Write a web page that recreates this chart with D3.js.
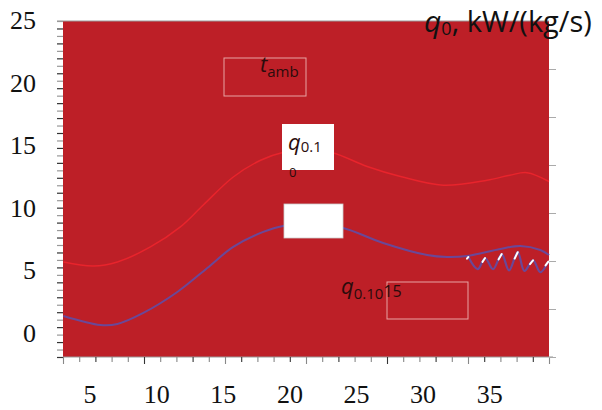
<!DOCTYPE html>
<html>
<head>
<meta charset="utf-8">
<script src="https://cdn.jsdelivr.net/npm/d3@7"></script>
<style>
  body { margin: 0; background: #fff; }
  .tick-label { font-family: "Liberation Serif", "Times New Roman", serif; font-size: 26px; fill: #111; }
  .note { font-family: "Open Sans", "Noto Sans", sans-serif; fill: #2a0c0c; }
</style>
</head>
<body>
<div id="chart"></div>
<script>
// ---- data ----
const xTicks = [5, 10, 15, 20, 25, 30, 35];
const yTicks = [0, 5, 10, 15, 20, 25];

// upper (red) curve
const redX = [3.0, 5.25, 7.05, 9.53, 11.78, 13.5, 15.75, 17.8, 19.4, 21.5, 23.2, 25.8, 28.3, 31.5, 34.8, 36.5, 37.8, 39.45];
const redY = [5.67, 5.35, 5.67, 6.87, 8.47, 10.22, 12.46, 13.8, 14.4, 14.6, 14.4, 13.3, 12.5, 11.8, 12.2, 12.6, 12.8, 12.1];

// lower (purple) curve
const blueX = [3.0, 5.78, 7.05, 9.0, 11.55, 13.8, 15.75, 18.0, 19.5, 21.75, 24.0, 27.0, 30.3, 31.8, 33.3, 35.8, 37.3, 38.8, 39.45];
const blueY = [1.36, 0.64, 0.72, 1.6, 3.27, 5.19, 6.87, 8.07, 8.55, 8.7, 8.39, 7.19, 6.23, 6.07, 6.15, 6.71, 6.95, 6.63, 6.23];

// oscillating tail of the purple curve
const wigX = [33.4, 34.1, 34.65, 35.25, 35.9, 36.45, 37.1, 37.6, 38.25, 38.8, 39.4];
const wigY = [6.07, 5.1, 5.99, 5.1, 6.3, 5.0, 6.45, 4.95, 5.8, 4.85, 5.7];

// ---- layout ----
const width = 602, height = 410;
const plot = { left: 63, right: 549, top: 21, bottom: 357 };
const bgColor = "#bd1f27";
const redColor = "#e8242c";
const blueColor = "#6a4898";

const svg = d3.select("#chart").append("svg")
    .attr("width", width)
    .attr("height", height);

const xScale = d3.scaleLinear().domain([2.97, 39.45]).range([plot.left, plot.right]);
const yScale = d3.scaleLinear().domain([-1.92, 24.92]).range([plot.bottom, plot.top]);

// scales used only for the tick marks (they do not line up with the labels)
const leftTickScale = d3.scaleLinear().domain([0, 45]).range([plot.bottom, plot.top]);
const bottomTickScale = d3.scaleLinear().domain([0, 30]).range([plot.left, plot.right]);
const rightTickScale = d3.scaleLinear().domain([0, 7]).range([plot.bottom, plot.top]);

// background panel
svg.append("rect")
    .attr("x", plot.left).attr("y", plot.top)
    .attr("width", plot.right - plot.left).attr("height", plot.bottom - plot.top)
    .attr("fill", bgColor);

// top border line
svg.append("line")
    .attr("x1", plot.left - 6).attr("x2", plot.right)
    .attr("y1", plot.top).attr("y2", plot.top)
    .attr("stroke", "#9a9a9a").attr("stroke-width", 1);

/*****************/
/* tick marks    */
/*****************/
const leftAxis = d3.axisLeft(leftTickScale).tickValues(d3.range(0, 46)).tickSize(6).tickFormat("");
const gLeft = svg.append("g").attr("transform", `translate(${plot.left},0)`).call(leftAxis);
gLeft.select(".domain").remove();
gLeft.selectAll(".tick line")
    .attr("stroke", (d) => d % 2 === 0 ? "#333" : "#999")
    .attr("stroke-width", 1.2);

const bottomAxis = d3.axisBottom(bottomTickScale).tickValues(d3.range(0, 31)).tickSize(6).tickFormat("");
const gBottom = svg.append("g").attr("transform", `translate(0,${plot.bottom})`).call(bottomAxis);
gBottom.select(".domain").attr("stroke", "#999").attr("d", `M${plot.left},0H${plot.right + 4}`);
gBottom.selectAll(".tick line")
    .attr("stroke", (d) => d % 3 === 2 ? "#333" : "#888")
    .attr("y2", (d) => d % 5 === 0 ? 7 : 5)
    .attr("stroke-width", 1.1);

const rightAxis = d3.axisRight(rightTickScale).tickValues(d3.range(0, 7)).tickSize(7).tickFormat("");
const gRight = svg.append("g").attr("transform", `translate(${plot.right},0)`).call(rightAxis);
gRight.select(".domain").remove();
gRight.selectAll(".tick line").attr("stroke", "#aaa").attr("stroke-width", 1);

/*****************/
/* tick labels   */
/*****************/
svg.append("g").selectAll("text")
    .data(yTicks)
    .join("text")
    .attr("class", "tick-label")
    .attr("x", 36)
    .attr("y", (d) => yScale(d))
    .attr("dy", "0.35em")
    .attr("text-anchor", "end")
    .text((d) => d);

svg.append("g").selectAll("text")
    .data(xTicks)
    .join("text")
    .attr("class", "tick-label")
    .attr("x", (d) => xScale(d))
    .attr("y", 403)
    .attr("text-anchor", "middle")
    .text((d) => d);

/*****************/
/* curves        */
/*****************/
const line = d3.line()
    .x((d) => xScale(d[0]))
    .y((d) => yScale(d[1]))
    .curve(d3.curveCatmullRom.alpha(0.5));

svg.append("path")
    .datum(d3.zip(redX, redY))
    .attr("d", line)
    .attr("fill", "none")
    .attr("stroke", redColor)
    .attr("stroke-width", 1.5);

svg.append("path")
    .datum(d3.zip(blueX, blueY))
    .attr("d", line)
    .attr("fill", "none")
    .attr("stroke", blueColor)
    .attr("stroke-width", 2);

const wig = d3.zip(wigX, wigY);
svg.append("path")
    .datum(wig)
    .attr("d", line)
    .attr("fill", "none")
    .attr("stroke", blueColor)
    .attr("stroke-width", 2.2);

// little white highlights on the peaks of the wiggle
const peaks = wig.filter((d, i) => i === 0 || (i > 0 && d[1] > wig[i - 1][1]));
svg.append("g").selectAll("line")
    .data(peaks.map((d) => {
        const j = wig.indexOf(d);
        const prev = j > 0 ? wig[j - 1] : [d[0] - 0.3, d[1] - 0.4];
        return [prev, d];
    }))
    .join("line")
    .attr("x1", (d) => xScale(d[1][0] - (d[1][0] - d[0][0]) * 0.35))
    .attr("y1", (d) => yScale(d[1][1] - (d[1][1] - d[0][1]) * 0.35))
    .attr("x2", (d) => xScale(d[1][0]))
    .attr("y2", (d) => yScale(d[1][1]))
    .attr("stroke", "#fff")
    .attr("stroke-width", 2)
    .attr("stroke-linecap", "round");

/*****************/
/* annotations   */
/*****************/
// t_amb outlined box
svg.append("rect")
    .attr("x", 224).attr("y", 58).attr("width", 82).attr("height", 38)
    .attr("fill", "none").attr("stroke", "#e8a4a4").attr("stroke-width", 1);
const tAmb = svg.append("text").attr("class", "note").attr("x", 260).attr("y", 72);
tAmb.append("tspan").attr("font-style", "italic").attr("font-size", 22).text("t");
tAmb.append("tspan").attr("font-size", 15).attr("dy", 5).text("amb");

// white box with q0.1
svg.append("rect")
    .attr("x", 282).attr("y", 124).attr("width", 52).attr("height", 46)
    .attr("fill", "#fff");
const q01 = svg.append("text").attr("class", "note").attr("x", 288).attr("y", 150);
q01.append("tspan").attr("font-style", "italic").attr("font-size", 22).text("q");
q01.append("tspan").attr("font-size", 15).attr("dy", 2).text("0.1");
svg.append("text").attr("class", "note")
    .attr("x", 289).attr("y", 177).attr("font-size", 13).text("0");

// empty white box
svg.append("rect")
    .attr("x", 284).attr("y", 204).attr("width", 59).attr("height", 34)
    .attr("fill", "#fff").attr("stroke", "#ccc").attr("stroke-width", 0.8);

// outlined box with q0.10 15
svg.append("rect")
    .attr("x", 387).attr("y", 282).attr("width", 81).attr("height", 37)
    .attr("fill", "none").attr("stroke", "#e8a4a4").attr("stroke-width", 1);
const q015 = svg.append("text").attr("class", "note").attr("x", 341).attr("y", 294);
q015.append("tspan").attr("font-style", "italic").attr("font-size", 22).text("q");
q015.append("tspan").attr("font-size", 15).attr("dy", 5).text("0.10");
q015.append("tspan").attr("font-size", 16).attr("dy", -2).text("15");

// axis title in the top-right corner
const title = svg.append("text")
    .attr("x", 424).attr("y", 32)
    .attr("font-family", "'Open Sans', 'Noto Sans', sans-serif")
    .attr("fill", "#111");
title.append("tspan").attr("font-style", "italic").attr("font-size", 30).text("q");
title.append("tspan").attr("font-size", 18).attr("dy", 3).text("0");
title.append("tspan").attr("font-size", 29).attr("dy", -3).text(", kW/(kg/s)");
</script>
</body>
</html>
